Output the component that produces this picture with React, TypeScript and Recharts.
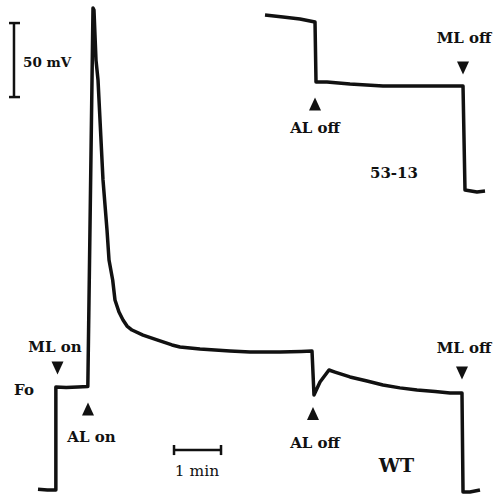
import { LineChart, Line, XAxis, YAxis, ReferenceDot, ReferenceLine } from 'recharts'

// time in min, signal in mV (WT baseline = 0)
const wtTime = [0, 0.2, 0.38, 0.38, 0.6, 0.85, 1.06, 1.17, 1.191, 1.234, 1.277, 1.383, 1.468, 1.511, 1.589, 1.638, 1.723, 1.809, 1.894, 2.0, 2.234, 2.532, 2.851, 3.021, 3.447, 4.085, 4.511, 5.149, 5.6, 5.83, 5.872, 6.0, 6.191, 6.319, 6.638, 7.0, 7.34, 7.7, 8.064, 8.45, 8.766, 9.021, 9.043, 9.19, 9.404]
const wtSignal = [0.5, 0, 0, 69.6, 69.2, 69.6, 69.9, 325.7, 324.3, 290.5, 277.0, 209.5, 175.7, 155.4, 141.9, 128.4, 120.3, 114.9, 110.8, 108.1, 104.7, 101.4, 98.0, 96.6, 95.3, 93.9, 93.2, 93.2, 93.6, 93.9, 64.2, 73.0, 81.1, 79.7, 76.4, 73.6, 70.9, 69.0, 67.6, 66.5, 65.5, 65.5, -1.4, -1.4, 0]

const mutTime = [4.83, 5.213, 5.574, 5.894, 5.915, 6.149, 6.638, 7.34, 8.064, 9.043, 9.085, 9.34, 9.511]
const mutSignal = [320.9, 319.6, 318.2, 316.2, 275.7, 275.7, 274.3, 273.0, 273.0, 273.0, 202.7, 201.4, 202.0]

const wtData = wtTime.map((t, i) => ({ t, v: wtSignal[i] }))
const mutData = mutTime.map((t, i) => ({ t, v: mutSignal[i] }))

// event arrows: [t, mV, direction]
const arrows: [number, number, 'up' | 'down'][] = [
  [0.415, 82.4, 'down'],
  [1.064, 54.7, 'up'],
  [5.851, 51.7, 'up'],
  [9.021, 79.1, 'down'],
  [5.894, 260.8, 'up'],
  [9.043, 285.1, 'down'],
]

// labels: [text, t, mV]
const boldLabels: [string, number, number][] = [
  ['ML on', 0.362, 93.2],
  ['Fo', -0.298, 64.2],
  ['AL on', 1.138, 32.4],
  ['AL off', 5.894, 28.4],
  ['ML off', 9.064, 92.6],
  ['ML off', 9.064, 302.0],
  ['AL off', 5.894, 241.2],
]

const font = '"DejaVu Serif", serif'

const triangle = (dir: 'up' | 'down') => (p: any) => {
  const { cx, cy } = p
  const d = dir === 'down'
    ? `M${cx - 6},${cy - 6.5} L${cx + 6},${cy - 6.5} L${cx},${cy + 6.5} Z`
    : `M${cx - 6},${cy + 6.5} L${cx + 6},${cy + 6.5} L${cx},${cy - 6.5} Z`
  return <path d={d} fill="#111" />
}

const label = (text: string, size: number, weight: string, anchor: 'start' | 'middle' = 'middle') => (p: any) => (
  <text x={p.cx} y={p.cy} textAnchor={anchor} fontFamily={font} fontSize={size} fontWeight={weight} fill="#111">
    {text}
  </text>
)

export default function App() {
  const bar = { stroke: '#111', strokeWidth: 2.5, ifOverflow: 'visible' as const }
  return (
    <div style={{ position: 'absolute', left: 0, top: 0, width: 497, height: 496, background: '#fff' }}>
      <LineChart width={497} height={496} margin={{ top: 0, right: 0, bottom: 0, left: 0 }}>
        <XAxis dataKey="t" type="number" domain={[-0.8085, 9.766]} allowDataOverflow hide />
        <YAxis type="number" domain={[-4.054, 331.08]} allowDataOverflow hide />

        {/* 50 mV scale bar */}
        <ReferenceLine segment={[{ x: -0.511, y: 265.5 }, { x: -0.511, y: 315.5 }]} {...bar} />
        <ReferenceLine segment={[{ x: -0.617, y: 315.5 }, { x: -0.383, y: 315.5 }]} {...bar} />
        <ReferenceLine segment={[{ x: -0.617, y: 265.5 }, { x: -0.383, y: 265.5 }]} {...bar} />
        {/* 1 min scale bar */}
        <ReferenceLine segment={[{ x: 2.894, y: 27.0 }, { x: 3.894, y: 27.0 }]} {...bar} />
        <ReferenceLine segment={[{ x: 2.894, y: 23.6 }, { x: 2.894, y: 30.4 }]} {...bar} />
        <ReferenceLine segment={[{ x: 3.894, y: 23.6 }, { x: 3.894, y: 30.4 }]} {...bar} />

        <Line data={wtData} dataKey="v" type="linear" stroke="#111" strokeWidth={3.5} strokeLinejoin="round" dot={false} activeDot={false} isAnimationActive={false} />
        <Line data={mutData} dataKey="v" type="linear" stroke="#111" strokeWidth={3.5} strokeLinejoin="round" dot={false} activeDot={false} isAnimationActive={false} />

        {arrows.map(([t, v, dir], i) => (
          <ReferenceDot key={'a' + i} x={t} y={v} r={6} shape={triangle(dir)} />
        ))}
        {boldLabels.map(([text, t, v], i) => (
          <ReferenceDot key={'l' + i} x={t} y={v} r={1} shape={label(text, 15, 'bold')} />
        ))}
        <ReferenceDot x={7.574} y={210.8} r={1} shape={label('53-13', 15, 'bold')} />
        <ReferenceDot x={7.628} y={12.2} r={1} shape={label('WT', 19, 'bold')} />
        <ReferenceDot x={3.383} y={9.5} r={1} shape={label('1 min', 15.5, 'normal')} />
        <ReferenceDot x={-0.319} y={285.8} r={1} shape={label('50 mV', 13.5, 'bold', 'start')} />
      </LineChart>
    </div>
  )
}
